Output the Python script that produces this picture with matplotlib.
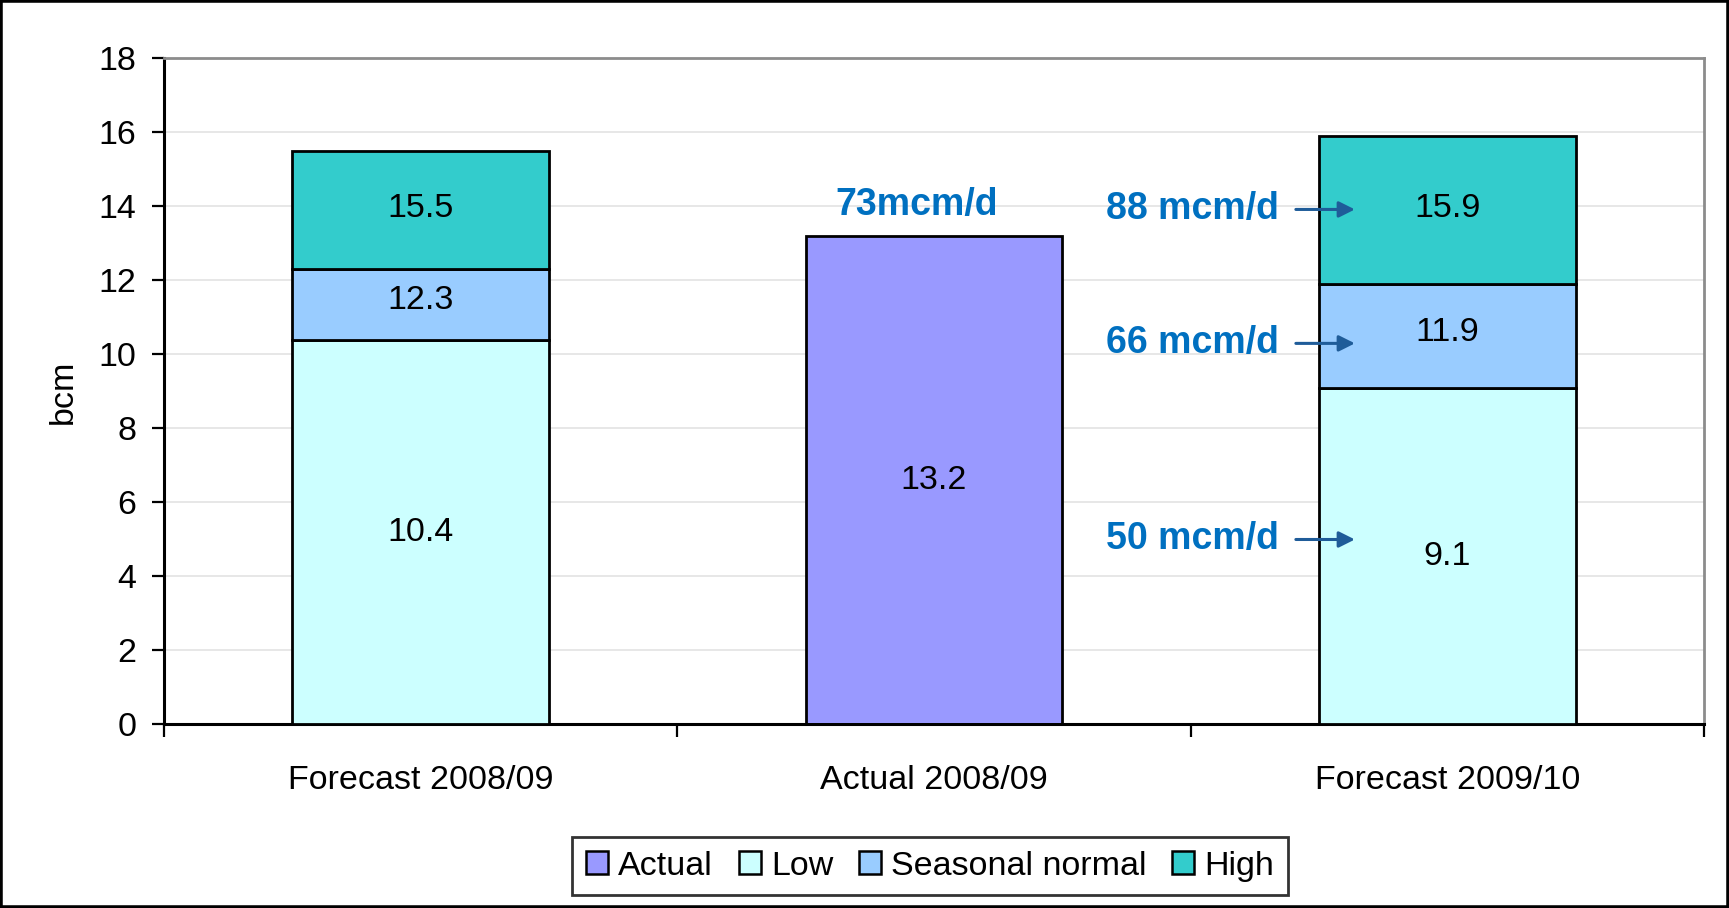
import matplotlib
matplotlib.use('Agg')
import matplotlib.pyplot as plt
from matplotlib.patches import Patch, Rectangle
import numpy as np

plt.rcParams['font.family'] = ['Liberation Sans', 'DejaVu Sans']

categories = ['Forecast 2008/09', 'Actual 2008/09', 'Forecast 2009/10']
actual = [0, 13.2, 0]
low = [10.4, 0, 9.1]
seasonal_top = [12.3, 0, 11.9]
high_top = [15.5, 0, 15.9]

flow_labels = ['88 mcm/d', '66 mcm/d', '50 mcm/d']
flow_y = [13.92, 10.3, 5.0]
actual_flow = '73mcm/d'

c_actual = '#9999FF'
c_low = '#CCFFFF'
c_seas = '#99CCFF'
c_high = '#33CCCC'
blue = '#0070C0'
arrow_blue = '#1F5C99'

low = np.array(low)
seas = np.array(seasonal_top) - low
high = np.array(high_top) - np.array(seasonal_top)
x = np.arange(len(categories))

fig = plt.figure(figsize=(17.29, 9.08), dpi=100)
ax = fig.add_axes([0.0949, 0.2021, 0.8906, 0.7335])

w = 0.5
ec = dict(edgecolor='black', linewidth=2)
ax.bar(x, actual, w, color=c_actual, zorder=3, **ec)
ax.bar(x, low, w, color=c_low, zorder=3, **ec)
ax.bar(x, seas, w, bottom=low, color=c_seas, zorder=3, **ec)
ax.bar(x, high, w, bottom=low + seas, color=c_high, zorder=3, **ec)

fs = 24.5
for i in x:
    if actual[i] > 0:
        ax.text(i, actual[i] / 2, f'{actual[i]:.1f}', ha='center', va='center', fontsize=fs, zorder=4)
    if low[i] > 0:
        ax.text(i, low[i] / 2, f'{low[i]:.1f}', ha='center', va='center', fontsize=fs, zorder=4)
        ax.text(i, low[i] + seas[i] / 2 + 0.1, f'{seasonal_top[i]:.1f}', ha='center', va='center',
                fontsize=fs, zorder=4)
        ax.text(i, seasonal_top[i] + high[i] / 2 + 0.05, f'{high_top[i]:.1f}', ha='center', va='center',
                fontsize=fs, zorder=4)

ax.text(0.967, 14.04, actual_flow, ha='center', va='center', fontsize=27, fontweight='bold', color=blue)
for lab, yy in zip(flow_labels, flow_y):
    ax.text(1.672, yy, lab, ha='right', va='center', fontsize=27, fontweight='bold', color=blue, zorder=5)
    ax.annotate('', xy=(1.82, yy), xytext=(1.705, yy), zorder=5,
                arrowprops=dict(arrowstyle='-|>', color=arrow_blue, lw=2.2, mutation_scale=24,
                                shrinkA=0, shrinkB=0))

ax.set_xlim(-0.5, 2.5)
ax.set_ylim(0, 18)
ax.set_yticks(np.arange(0, 19, 2))
ax.tick_params(axis='y', labelsize=fs, length=9, width=1.6, pad=11)
ax.yaxis.grid(True, color='#E3E3E3', linewidth=1.2, zorder=0)
ax.set_axisbelow(True)

ax.set_xticks([-0.5, 0.5, 1.5, 2.5])
ax.set_xticklabels([])
ax.tick_params(axis='x', which='major', length=9, width=1.6, direction='out')
ax.set_xticks(x, minor=True)
ax.set_xticklabels(categories, minor=True)
ax.tick_params(axis='x', which='minor', length=0, labelsize=fs, pad=29)

ax.set_ylabel('bcm', fontsize=fs, labelpad=14)

for s in ['left', 'bottom']:
    ax.spines[s].set_linewidth(2.2)
    ax.spines[s].set_color('black')
for s in ['top', 'right']:
    ax.spines[s].set_linewidth(2)
    ax.spines[s].set_color('#8C8C8C')

handles = [Patch(facecolor=c, edgecolor='black', linewidth=1.8) for c in [c_actual, c_low, c_seas, c_high]]
leg = fig.legend(handles, ['Actual', 'Low', 'Seasonal normal', 'High'], loc='center',
                 bbox_to_anchor=(0.538, 0.046), ncol=4, fontsize=fs, frameon=True, fancybox=False,
                 handlelength=0.65, handleheight=0.65, handletextpad=0.3, columnspacing=0.75,
                 borderpad=0.4, edgecolor='black')
leg.get_frame().set_linewidth(2)

fig.patches.append(Rectangle((0, 0), 1, 1, transform=fig.transFigure, fill=False,
                             edgecolor='black', linewidth=4, clip_on=False))

fig.savefig('out.png', dpi=100)
